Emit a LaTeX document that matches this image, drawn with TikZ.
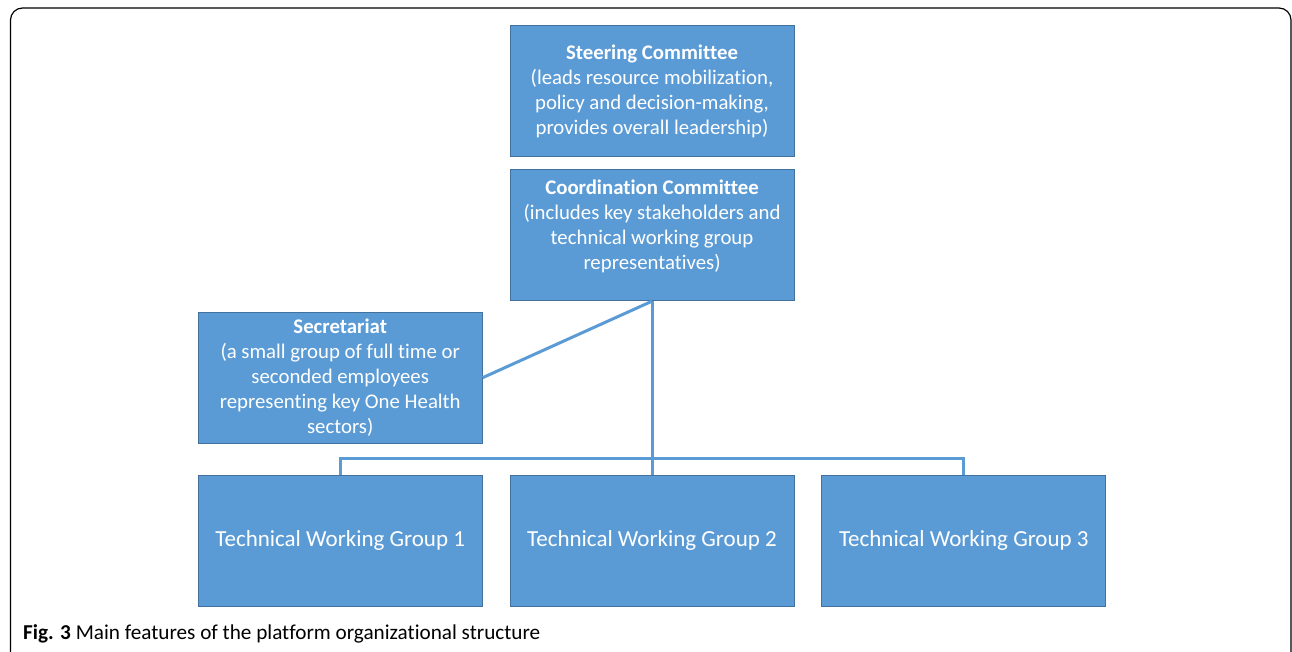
\documentclass[tikz,border=0pt]{standalone}
\usepackage{fontspec}
\setmainfont{Carlito}[Ligatures={NoCommon}]
\usepackage{xcolor}
\usetikzlibrary{positioning}

\definecolor{boxblue}{HTML}{5B9BD5}
\definecolor{boxedge}{HTML}{41719C}

\begin{document}
\begin{tikzpicture}[
      x=1pt, y=-1pt,
      box/.style={
        rectangle,
        draw=boxedge,
        fill=boxblue,
        line width=0.8pt,
        minimum width=284pt,
        minimum height=131pt,
        inner sep=0pt,
        align=center,
        text=white,
        font=\fontsize{20.8}{25}\selectfont
      },
      bigbox/.style={box, font=\fontsize{23}{25}\selectfont},
      link/.style={draw=boxblue, line width=3pt},
      node distance=13pt
    ]
    \useasboundingbox (0,0) rectangle (1292,651);
    % outer frame
    \draw[line width=1.2pt, rounded corners=12pt] (10.5,662) -- (10.5,8) -- (1291,8) -- (1291,662);

    \node[box, text depth=1pt] (steer) at (652,90.5) {\textbf{Steering Committee}\\(leads resource mobilization,\\policy and decision-making,\\provides overall leadership)};
    \node[box, below=of steer, text depth=22pt] (coord) {\textbf{Coordination Committee}\\(includes key stakeholders and\\technical working group\\representatives)};
    \node[bigbox] (twg2) at (652,540.5) {Technical Working Group 2};
    \node[bigbox, left=27pt of twg2] (twg1) {Technical Working Group 1};
    \node[bigbox, right=27pt of twg2] (twg3) {Technical Working Group 3};
    \node[box, above=31pt of twg1] (sec) {\textbf{Secretariat}\\(a small group of full time or\\seconded employees\\representing key One Health\\sectors)};

    \coordinate (bus) at (652,458);
    \draw[link] (coord.south) -- (twg2.north);
    \draw[link] (sec.east) -- (coord.south);
    \draw[link] (twg1.north) |- (bus) -| (twg3.north);

    \node[anchor=base west, inner sep=0pt, font=\fontsize{21.2}{24}\selectfont] (caption) at (23,639)
      {\textbf{Fig. 3} Main features of the platform organizational structure};
  \end{tikzpicture}
\end{document}
